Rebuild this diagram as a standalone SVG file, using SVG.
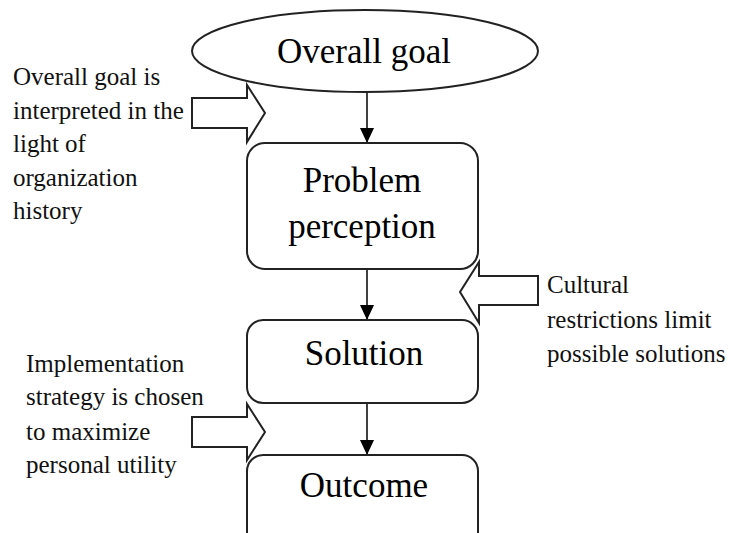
<svg xmlns="http://www.w3.org/2000/svg" width="733" height="533" viewBox="0 0 733 533">
<style>
.shape{fill:#fff;stroke:#222;stroke-width:2}
text{font-family:'Liberation Serif','DejaVu Serif','Noto Serif',serif}
.big{font-size:35px;fill:#000;text-anchor:middle}
.note{font-size:25px;fill:#111}
.conn{stroke:#111;stroke-width:1.6;fill:none}
</style>
<defs>
<marker id="ah" markerUnits="userSpaceOnUse" markerWidth="15" markerHeight="14" refX="15" refY="7" orient="auto" viewBox="0 0 15 14">
<path d="M0,0 L15,7 L0,14 Z" fill="#000"/>
</marker>
</defs>
<rect width="733" height="533" fill="#fff"/>
<g id="connectors">
<path class="conn" d="M367,92 V143" marker-end="url(#ah)"/>
<path class="conn" d="M367,269 V320" marker-end="url(#ah)"/>
<path class="conn" d="M367,403 V455" marker-end="url(#ah)"/>
</g>
<g id="overall-goal">
<ellipse class="shape" cx="365" cy="51" rx="173" ry="41"/>
<text class="big" x="364" y="63">Overall goal</text>
</g>
<g id="problem-perception">
<rect class="shape" x="247" y="143" width="231" height="126" rx="18"/>
<text class="big" x="362" y="192">Problem</text>
<text class="big" x="362" y="238">perception</text>
</g>
<g id="solution">
<rect class="shape" x="247" y="320" width="231" height="83" rx="16"/>
<text class="big" x="364" y="365">Solution</text>
</g>
<g id="outcome">
<rect class="shape" x="247" y="455" width="231" height="95" rx="16"/>
<text class="big" x="364" y="497">Outcome</text>
</g>
<g id="history-arrow">
<polygon class="shape" points="192,98 247,98 247,85 265,113 247,142 247,128 192,128"/>
<text class="note" x="13" y="85">Overall goal is</text>
<text class="note" x="13" y="118.5">interpreted in the</text>
<text class="note" x="13" y="152">light of</text>
<text class="note" x="13" y="185.5">organization</text>
<text class="note" x="13" y="219">history</text>
</g>
<g id="culture-arrow">
<polygon class="shape" points="538,276 479,276 479,262 460,292 479,323 479,305 538,305"/>
<text class="note" x="547" y="293">Cultural</text>
<text class="note" x="547" y="328">restrictions limit</text>
<text class="note" x="547" y="362">possible solutions</text>
</g>
<g id="utility-arrow">
<polygon class="shape" points="192,417 247,417 247,404 265,432 247,460 247,447 192,447"/>
<text class="note" x="26" y="372">Implementation</text>
<text class="note" x="26" y="405">strategy is chosen</text>
<text class="note" x="26" y="440">to maximize</text>
<text class="note" x="26" y="473">personal utility</text>
</g>
</svg>
